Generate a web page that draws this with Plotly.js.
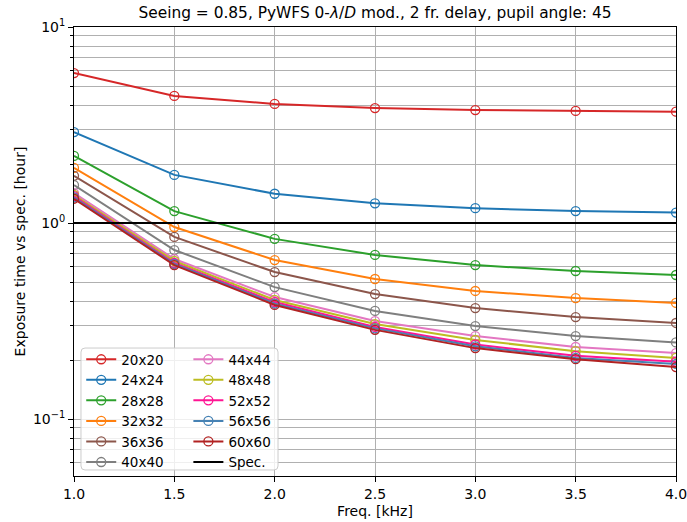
<!DOCTYPE html>
<html>
<head>
<meta charset="utf-8">
<script src="https://cdn.plot.ly/plotly-3.0.1.min.js"></script>
<style>html,body{margin:0;padding:0;background:#fff;}#chart{width:687px;height:522px;}</style>
</head>
<body>
<div id="chart"></div>
<script>
const freqs = [1.0, 1.5, 2.0, 2.5, 3.0, 3.5, 4.0];
const labels = ["20x20", "24x24", "28x28", "32x32", "36x36", "40x40", "44x44", "48x48", "52x52", "56x56", "60x60"];
const t20 = [5.82, 4.45, 4.05, 3.86, 3.77, 3.73, 3.70];
const t24 = [2.91, 1.76, 1.41, 1.26, 1.19, 1.15, 1.13];
const t28 = [2.20, 1.15, 0.83, 0.687, 0.61, 0.569, 0.543];
const t32 = [1.91, 0.954, 0.647, 0.518, 0.450, 0.414, 0.391];
const t36 = [1.74, 0.849, 0.562, 0.434, 0.368, 0.331, 0.309];
const t40 = [1.56, 0.728, 0.471, 0.356, 0.298, 0.265, 0.246];
const t44 = [1.42, 0.655, 0.419, 0.316, 0.265, 0.233, 0.217];
const t48 = [1.39, 0.640, 0.405, 0.305, 0.253, 0.222, 0.205];
const t52 = [1.37, 0.625, 0.395, 0.295, 0.240, 0.210, 0.196];
const t56 = [1.35, 0.618, 0.388, 0.290, 0.235, 0.205, 0.191];
const t60 = [1.33, 0.610, 0.382, 0.285, 0.230, 0.202, 0.184];
const specValue = 1.0;
const specLabel = "Spec.";
const colors = ["#d62728", "#1f77b4", "#2ca02c", "#ff7f0e", "#8c564b", "#7f7f7f", "#e377c2", "#bcbd22", "#ff1493", "#4682b4", "#b22222"];
const series = [t20, t24, t28, t32, t36, t40, t44, t48, t52, t56, t60];
const yTickVals = [0.1, 1, 10];
const yTickText = ["10<sup>−1</sup>", "10<sup>0</sup>", "10<sup>1</sup>"];
const xTickVals = [1.0, 1.5, 2.0, 2.5, 3.0, 3.5, 4.0];

const FONT = "DejaVu Sans, sans-serif";
const traces = series.map((vals, i) => ({
  x: freqs, y: vals, name: labels[i], type: "scatter", mode: "lines+markers",
  line: {color: colors[i], width: 2},
  marker: {symbol: "circle-open", size: 9, color: colors[i], line: {width: 1.3, color: colors[i]}},
  legend: i < 6 ? "legend" : "legend2"
}));
traces.push({
  x: [freqs[0], freqs[freqs.length - 1]], y: [specValue, specValue], name: specLabel,
  type: "scatter", mode: "lines", line: {color: "#000000", width: 2}, legend: "legend2"
});

const minorVals = [];
[0.01, 0.1, 1].forEach(d => { for (let k = 2; k <= 9; k++) minorVals.push(+(d * k).toPrecision(3)); });

const x0 = 0.0116, x1 = 0.3389, y0 = 0.0134, y1 = 0.285, rx = 4 / 602, ry = 4 / 449;
const framePath = `M${x0 + rx},${y0} L${x1 - rx},${y0} Q${x1},${y0} ${x1},${y0 + ry} L${x1},${y1 - ry} Q${x1},${y1} ${x1 - rx},${y1} L${x0 + rx},${y1} Q${x0},${y1} ${x0},${y1 - ry} L${x0},${y0 + ry} Q${x0},${y0} ${x0 + rx},${y0} Z`;

const legendBase = {
  xanchor: "left", yanchor: "top", bgcolor: "rgba(0,0,0,0)", borderwidth: 0,
  itemwidth: 30, font: {family: FONT, size: 13.5, color: "#000"}, tracegroupgap: 0
};

const layout = {
  width: 687, height: 522,
  margin: {l: 74, r: 11, t: 27, b: 46},
  paper_bgcolor: "#ffffff", plot_bgcolor: "#ffffff",
  font: {family: FONT, size: 14, color: "#000"},
  title: {
    text: "Seeing = 0.85, PyWFS 0-<i>λ</i>/<i>D</i> mod., 2 fr. delay, pupil angle: 45",
    font: {family: FONT, size: 15.4, color: "#000"},
    x: 0.5, xref: "paper", xanchor: "center", y: 1 - 13 / 522, yref: "container", yanchor: "middle"
  },
  xaxis: {
    range: [1.0, 4.0], tickvals: xTickVals, ticktext: xTickVals.map(v => v.toFixed(1)),
    ticks: "outside", ticklen: 5, tickwidth: 1, tickcolor: "#000", ticklabeloverflow: "allow",
    showgrid: true, gridcolor: "#b0b0b0", gridwidth: 1,
    showline: true, linecolor: "#000", linewidth: 1, mirror: true, zeroline: false,
    tickfont: {family: FONT, size: 14},
    title: {text: "Freq. [kHz]", font: {family: FONT, size: 14}, standoff: 5}
  },
  yaxis: {
    type: "log", range: [Math.log10(0.0512), 1],
    tickvals: yTickVals, ticktext: yTickText, ticklabeloverflow: "allow",
    ticks: "outside", ticklen: 5, tickwidth: 1, tickcolor: "#000",
    showgrid: true, gridcolor: "#b0b0b0", gridwidth: 1,
    showline: true, linecolor: "#000", linewidth: 1, mirror: true, zeroline: false,
    tickfont: {family: FONT, size: 14},
    minor: {tickvals: minorVals, ticks: "outside", ticklen: 3, tickcolor: "#000", showgrid: true, gridcolor: "#b0b0b0", gridwidth: 1},
    title: {text: "Exposure time vs spec. [hour]", font: {family: FONT, size: 14}, standoff: 4}
  },
  legend: Object.assign({}, legendBase, {x: 0.012, y: 0.294}),
  legend2: Object.assign({}, legendBase, {x: 0.19, y: 0.294}),
  shapes: [{type: "path", xref: "paper", yref: "paper", path: framePath, layer: "above",
    fillcolor: "rgba(255,255,255,0.8)", line: {color: "#cccccc", width: 1}}],
  showlegend: true
};

Plotly.newPlot("chart", traces, layout, {staticPlot: true, displayModeBar: false});
</script>
</body>
</html>
